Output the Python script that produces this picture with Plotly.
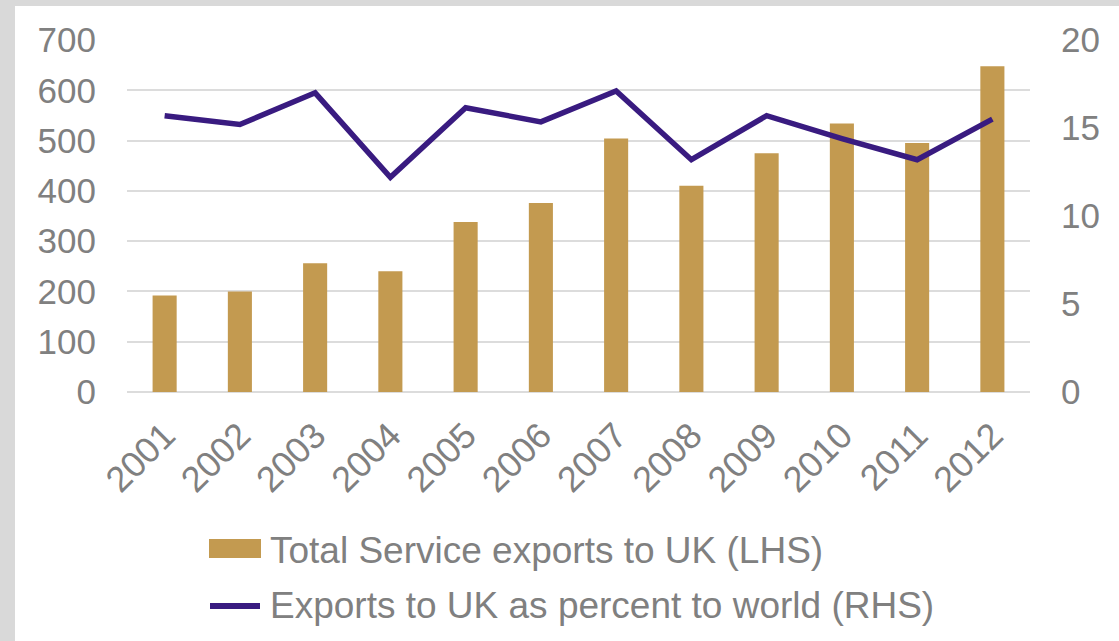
import plotly.graph_objects as go

# Years on the category axis
years = ["2001", "2002", "2003", "2004", "2005", "2006",
         "2007", "2008", "2009", "2010", "2011", "2012"]

# Total service exports to the UK (left axis)
service_exports = [192, 200, 256, 240, 338, 376, 504, 410, 475, 534, 495, 648]

# Exports to the UK as a percentage of exports to the world (right axis)
share_of_world = [15.7, 15.2, 17.0, 12.2, 16.15, 15.35, 17.1, 13.2, 15.7, 14.4, 13.2, 15.5]

bar_name = "Total Service exports to UK (LHS)"
line_name = "Exports to UK as percent to world (RHS)"

left_ticks = [0, 100, 200, 300, 400, 500, 600, 700]
right_ticks = [0, 5, 10, 15, 20]

BAR_COLOR = "#C39A50"
LINE_COLOR = "#391B80"
TEXT_COLOR = "#808080"
GRID_COLOR = "#DCDCDC"
FONT = "Liberation Sans, Arial, sans-serif"

W, H = 1119, 641
ML, MR, MT, MB = 127, 89, 40, 249
PW, PH = W - ML - MR, H - MT - MB


def px_x(px):
    return (px - ML) / PW


def px_y(py):
    return (H - MB - py) / PH


fig = go.Figure()

fig.add_trace(go.Bar(
    x=years, y=service_exports, name=bar_name,
    marker=dict(color=BAR_COLOR, line=dict(width=0)),
    width=0.32, yaxis="y", showlegend=False,
))

fig.add_trace(go.Scatter(
    x=years, y=share_of_world, name=line_name, mode="lines",
    line=dict(color=LINE_COLOR, width=5.5),
    yaxis="y2", showlegend=False,
))

# Light frame around the chart card, with the white card drawn on top of it
shapes = [
    dict(type="rect", xref="paper", yref="paper", layer="below",
         x0=px_x(15), x1=px_x(W + 5), y0=px_y(6), y1=px_y(H + 5),
         fillcolor="white", line=dict(width=0)),
    # legend swatches
    dict(type="rect", xref="paper", yref="paper",
         x0=px_x(209), x1=px_x(261), y0=px_y(539), y1=px_y(558),
         fillcolor=BAR_COLOR, line=dict(width=0)),
    dict(type="line", xref="paper", yref="paper",
         x0=px_x(210), x1=px_x(260), y0=px_y(606), y1=px_y(606),
         line=dict(color=LINE_COLOR, width=6)),
]

annotations = [
    dict(text=bar_name, xref="paper", yref="paper", x=px_x(268), y=px_y(550),
         xanchor="left", yanchor="middle", showarrow=False,
         font=dict(family=FONT, size=37, color=TEXT_COLOR)),
    dict(text=line_name, xref="paper", yref="paper", x=px_x(268), y=px_y(605),
         xanchor="left", yanchor="middle", showarrow=False,
         font=dict(family=FONT, size=37, color=TEXT_COLOR)),
]

fig.update_layout(
    width=W, height=H,
    margin=dict(l=ML, r=MR, t=MT, b=MB, pad=0),
    paper_bgcolor="#D9D9D9",
    plot_bgcolor="rgba(0,0,0,0)",
    font=dict(family=FONT, color=TEXT_COLOR),
    bargap=0.68,
    shapes=shapes,
    annotations=annotations,
    xaxis=dict(
        type="category", tickangle=-45,
        tickfont=dict(size=36, color=TEXT_COLOR, family=FONT),
        showgrid=False, showline=False, ticks="",
        ticklabelstandoff=14,
    ),
    yaxis=dict(
        range=[0, 700], tickvals=left_ticks,
        tickfont=dict(size=35, color=TEXT_COLOR, family=FONT),
        showgrid=True, gridcolor=GRID_COLOR, gridwidth=2,
        zeroline=True, zerolinecolor=GRID_COLOR, zerolinewidth=2,
        showline=False, ticks="", ticklabelstandoff=30,
    ),
    yaxis2=dict(
        range=[0, 20], tickvals=right_ticks, overlaying="y", side="right",
        tickfont=dict(size=35, color=TEXT_COLOR, family=FONT),
        showgrid=False, zeroline=False, showline=False, ticks="",
        ticklabelstandoff=30,
    ),
)

fig.write_html("out.html")
